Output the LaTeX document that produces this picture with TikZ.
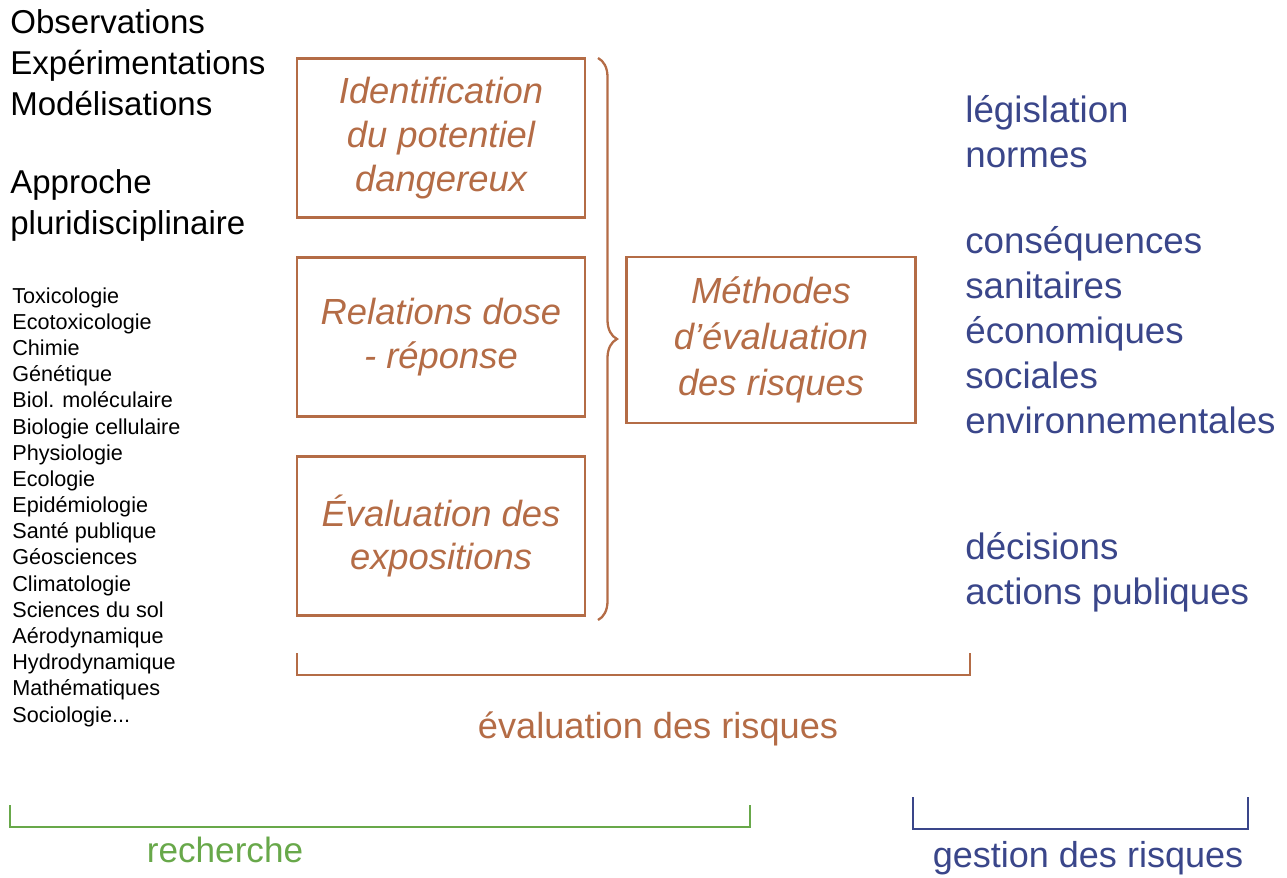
\documentclass[tikz,border=0pt]{standalone}
\usepackage{fontspec}
\setmainfont{Liberation Sans}
\usetikzlibrary{decorations.pathreplacing}
\definecolor{rust}{RGB}{180,108,70}
\definecolor{navy}{RGB}{58,70,138}
\definecolor{leaf}{RGB}{104,168,74}
\tikzset{
	stepbox/.style={rectangle,draw=rust,line width=1.6pt,minimum width=5.76cm,minimum height=3.18cm,
		text=rust,align=center,font=\fontsize{20.7pt}{25pt}\selectfont\itshape},
	bigtext/.style={inner sep=0pt,anchor=west,align=left,font=\fontsize{18.8pt}{23.3pt}\selectfont},
	smalltext/.style={inner sep=0pt,anchor=west,align=left,font=\fontsize{12.3pt}{14.9pt}\selectfont},
	bluetext/.style={inner sep=0pt,anchor=west,align=left,text=navy,font=\fontsize{20.9pt}{25.6pt}\selectfont},
	bracketline/.style={line width=1.5pt}
}

\begin{document}
\begin{tikzpicture}[x=0.02cm,y=-0.02cm]
	\useasboundingbox (0,0) rectangle (1287,877);
	% left column
	\node[bigtext] (obs) at (10,63) {Observations\\Expérimentations\\Modélisations};
	\node[bigtext] (appr) at (10,205) {Approche\\pluridisciplinaire};
	\node[smalltext] (disc) at (12,507) {Toxicologie\\Ecotoxicologie\\Chimie\\Génétique\\Biol. moléculaire\\Biologie cellulaire\\Physiologie\\Ecologie\\Epidémiologie\\Santé publique\\Géosciences\\Climatologie\\Sciences du sol\\Aérodynamique\\Hydrodynamique\\Mathématiques\\Sociologie...};
	% boxes
	\node[stepbox] (ident) at (441,138) {Identification\\du potentiel\\dangereux};
	\node[stepbox] (dose) at (441,337) {Relations dose\\- réponse};
	\node[stepbox] (expo) at (441,536) {Évaluation des\\expositions};
	\node[stepbox,minimum height=3.32cm,minimum width=5.78cm,font=\fontsize{20.7pt}{26pt}\selectfont\itshape] (meth) at (771,340) {Méthodes\\d'évaluation\\des risques};
	\coordinate (brtop) at (598,58);
	\coordinate (brbot) at (598,620);
	\draw[rust,line width=1.3pt,decorate,decoration={brace,amplitude=0.38cm}] (brtop) -- (brbot);
	% bracket evaluation
	\coordinate (ea) at (297,653);
	\coordinate (eb) at (970,653);
	\draw[rust,bracketline] (ea) -- ++(0,22) -| (eb);
	\node[text=rust,font=\fontsize{20.6pt}{24pt}\selectfont] (evalr) at (658,729) {évaluation des risques};
	% right column
	\node[bluetext] (legis) at (965,132) {législation\\normes};
	\node[bluetext] (cons) at (965,330) {conséquences\\sanitaires\\économiques\\sociales\\environnementales};
	\node[bluetext] (deci) at (965,572) {décisions\\actions publiques};
	% bottom brackets
	\coordinate (ra) at (10,805);
	\coordinate (rb) at (750,805);
	\draw[leaf,bracketline] (ra) -- ++(0,22) -| (rb);
	\node[text=leaf,font=\fontsize{20pt}{24pt}\selectfont] (rech) at (225,850) {recherche};
	\coordinate (ga) at (913,797);
	\coordinate (gb) at (1248,797);
	\draw[navy,bracketline] (ga) -- ++(0,32) -| (gb);
	\node[text=navy,font=\fontsize{20.5pt}{24pt}\selectfont] (gest) at (1088,858) {gestion des risques};
\end{tikzpicture}
\end{document}
